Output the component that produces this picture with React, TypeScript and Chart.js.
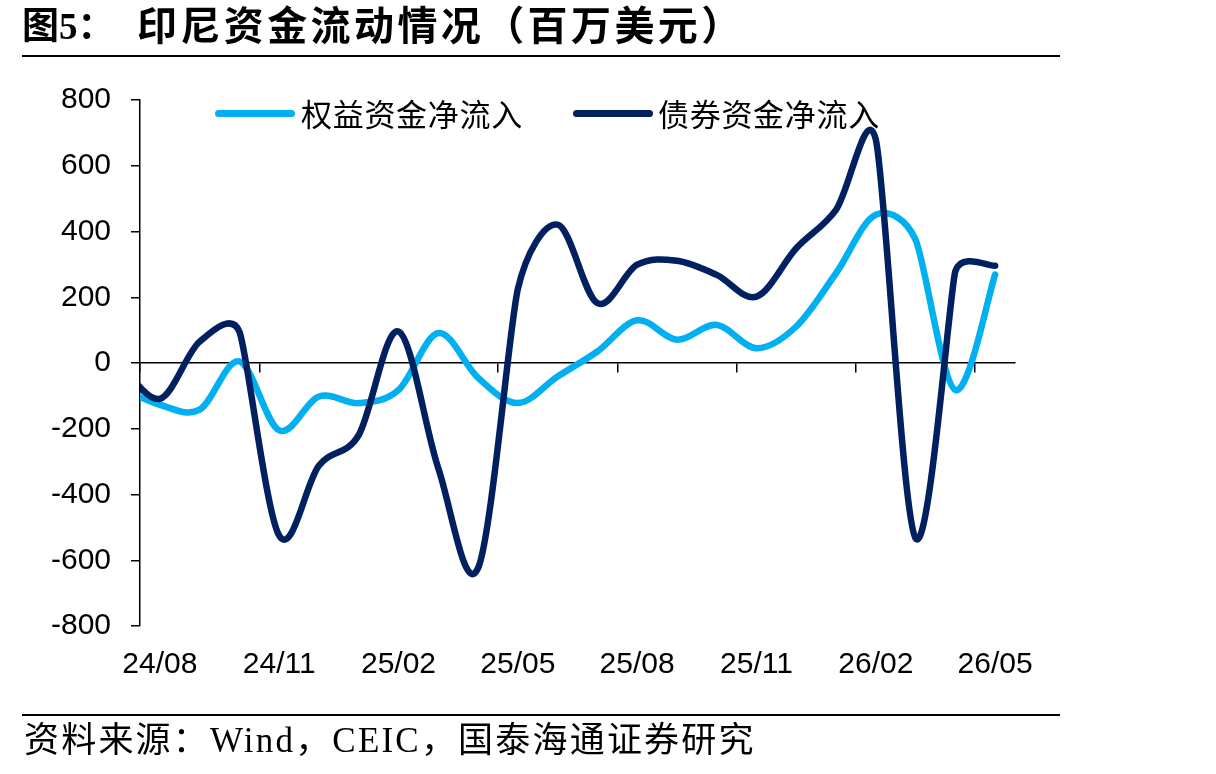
import React, { useEffect, useRef } from 'react';
import { Chart, registerables } from 'chart.js';

Chart.register(...registerables);

// ---- data (monthly, 百万美元) ----
const monthLabels = [
  '24/07', '24/08', '24/09', '24/10', '24/11', '24/12', '25/01', '25/02', '25/03', '25/04', '25/05', '25/06',
  '25/07', '25/08', '25/09', '25/10', '25/11', '25/12', '26/01', '26/02', '26/03', '26/04', '26/05',
];
const equityFlows = [-75, -127, -142, 5, -205, -102, -122, -82, 91, -45, -122, -41, 35, 130, 71, 116, 45, 111, 273, 451, 375, -82, 269];
const bondFlows = [0, -109, 65, 95, -525, -312, -219, 96, -320, -624, 225, 421, 182, 299, 311, 268, 202, 349, 466, 680, -533, 279, 296];
const xTickLabels = ['24/08', '24/11', '25/02', '25/05', '25/08', '25/11', '26/02', '26/05'];
const seriesNames = ['权益资金净流入', '债券资金净流入'];
const yMin = -800;
const yMax = 800;
const yStep = 200;

const firstVisible = 1; // index of 24/08 in monthLabels
const xMin = -0.5;
const xMax = monthLabels.length - 1 - firstVisible + 0.5;
const xTickValues = xTickLabels.map((l) => monthLabels.indexOf(l) - firstVisible - 0.5);

const W = 1216;
const H = 774;
const PLOT_LEFT = 140;
const PLOT_RIGHT = 1015;
const halfMonthPx = (PLOT_RIGHT - PLOT_LEFT) / (xMax - xMin) / 2;

const EQUITY = '#00B0F0';
const BOND = '#002060';

// Excel-like smoothing of the line through the library's own point pixels
const excelSmooth = {
  id: 'excelSmooth',
  beforeDatasetDraw(_chart: any, args: any) {
    const meta = args.meta;
    const line = meta.dataset;
    const pts = meta.data;
    const n = pts.length;
    if (!line || n < 2) return;
    for (let i = 0; i < n; i++) {
      const p1 = pts[i];
      const p0 = pts[i > 0 ? i - 1 : i];
      const p2 = pts[i < n - 1 ? i + 1 : i];
      const dx = p2.x - p0.x;
      const dy = p2.y - p0.y;
      const d02 = Math.hypot(dx, dy);
      let f = 1 / 6;
      if (d02 > 0) {
        if (i > 0) f = Math.min(f, Math.hypot(p1.x - p0.x, p1.y - p0.y) / (2 * d02));
        if (i < n - 1) f = Math.min(f, Math.hypot(p2.x - p1.x, p2.y - p1.y) / (2 * d02));
      }
      p1.cp1x = p1.x - f * dx;
      p1.cp1y = p1.y - f * dy;
      p1.cp2x = p1.x + f * dx;
      p1.cp2y = p1.y + f * dy;
    }
    line._pointsUpdated = true;
    line._path = undefined;
  },
};

const setMonthTicks = (scale: any) => {
  scale.ticks = xTickValues.map((v) => ({ value: v }));
};

export default function App() {
  const canvasRef = useRef<HTMLCanvasElement | null>(null);

  useEffect(() => {
    if (!canvasRef.current) return;
    Chart.defaults.font.family = "'Liberation Sans', Arial, sans-serif";
    const toPoints = (vals: number[]) => vals.map((v, i) => ({ x: i - firstVisible, y: v }));
    const chart = new Chart(canvasRef.current, {
      type: 'line',
      data: {
        datasets: [
          {
            label: seriesNames[0],
            data: toPoints(equityFlows),
            borderColor: EQUITY,
            backgroundColor: EQUITY,
            borderWidth: 6.5,
            borderCapStyle: 'round',
            borderJoinStyle: 'round',
            tension: 0.4,
            pointRadius: 0,
            order: 1,
            clip: { left: 0, top: 20, right: 20, bottom: 20 },
          },
          {
            label: seriesNames[1],
            data: toPoints(bondFlows),
            borderColor: BOND,
            backgroundColor: BOND,
            borderWidth: 6.5,
            borderCapStyle: 'round',
            borderJoinStyle: 'round',
            tension: 0.4,
            pointRadius: 0,
            order: 0,
            clip: { left: 0, top: 20, right: 20, bottom: 20 },
          },
        ],
      },
      options: {
        animation: false,
        responsive: false,
        events: [],
        layout: { padding: { left: 0, right: W - PLOT_RIGHT, top: 100, bottom: 88 } },
        plugins: { legend: { display: false }, tooltip: { enabled: false } },
        scales: {
          x: {
            type: 'linear',
            position: 'bottom',
            min: xMin,
            max: xMax,
            afterBuildTicks: setMonthTicks,
            afterFit: (s: any) => {
              s.height = 60;
            },
            grid: { display: false, drawTicks: false },
            border: { display: false },
            ticks: {
              autoSkip: false,
              maxRotation: 0,
              minRotation: 0,
              padding: 21,
              labelOffset: halfMonthPx,
              color: '#000',
              font: { size: 30 },
              callback: (value: any) => monthLabels[Math.round(Number(value) + 0.5) + firstVisible],
            },
          },
          xZero: {
            type: 'linear',
            position: { y: 0 },
            min: xMin,
            max: xMax,
            afterBuildTicks: setMonthTicks,
            grid: { drawOnChartArea: false, drawTicks: true, tickLength: 9, color: '#000', lineWidth: 1.5 },
            border: { display: true, color: '#000', width: 1.5 },
            ticks: { display: false },
          },
          y: {
            type: 'linear',
            position: 'left',
            min: yMin,
            max: yMax,
            afterFit: (s: any) => {
              s.width = PLOT_LEFT;
            },
            grid: { drawOnChartArea: false, drawTicks: true, tickLength: 9, color: '#000', lineWidth: 1.5 },
            border: { display: true, color: '#000', width: 1.5 },
            ticks: {
              stepSize: yStep,
              padding: 20,
              color: '#000',
              font: { size: 30 },
              callback: (v: any) => String(v),
            },
          },
        },
      } as any,
      plugins: [excelSmooth],
    } as any);
    return () => chart.destroy();
  }, []);

  const serifCJK = "'Liberation Serif', 'Noto Sans CJK SC', serif";
  const legendFont = "'Noto Sans CJK SC', sans-serif";

  return (
    <div style={{ position: 'absolute', left: 0, top: 0, width: W, height: H, background: '#fff', overflow: 'hidden' }}>
      <canvas ref={canvasRef} width={W} height={H} style={{ position: 'absolute', left: 0, top: 0, width: W, height: H }} />
      {/* title */}
      <div
        style={{
          position: 'absolute',
          left: 22,
          top: 6,
          height: 42,
          lineHeight: '42px',
          fontFamily: serifCJK,
          fontWeight: 700,
          fontSize: 37,
          color: '#000',
          whiteSpace: 'nowrap',
        }}
      >
        <span>图5：</span>
        <span style={{ position: 'absolute', left: 115, top: 0, fontSize: 40, letterSpacing: 3.4 }}>印尼资金流动情况（百万美元）</span>
      </div>
      <div style={{ position: 'absolute', left: 22, top: 55, width: 1038, height: 2, background: '#000' }} />
      {/* legend */}
      <div style={{ position: 'absolute', left: 215, top: 109.5, width: 80, height: 7, borderRadius: 3.5, background: EQUITY }} />
      <div
        style={{
          position: 'absolute',
          left: 301,
          top: 93,
          lineHeight: '40px',
          fontFamily: legendFont,
          fontSize: 31,
          letterSpacing: 0.7,
          color: '#000',
          whiteSpace: 'nowrap',
        }}
      >
        {seriesNames[0]}
      </div>
      <div style={{ position: 'absolute', left: 573, top: 109.5, width: 80, height: 7, borderRadius: 3.5, background: BOND }} />
      <div
        style={{
          position: 'absolute',
          left: 658,
          top: 93,
          lineHeight: '40px',
          fontFamily: legendFont,
          fontSize: 31,
          letterSpacing: 0.7,
          color: '#000',
          whiteSpace: 'nowrap',
        }}
      >
        {seriesNames[1]}
      </div>
      {/* source */}
      <div style={{ position: 'absolute', left: 22, top: 713.5, width: 1038, height: 2, background: '#000' }} />
      <div
        style={{
          position: 'absolute',
          left: 24,
          top: 721,
          lineHeight: '40px',
          fontFamily: serifCJK,
          fontSize: 35,
          letterSpacing: 2.2,
          color: '#000',
          whiteSpace: 'nowrap',
        }}
      >
        资料来源：Wind，CEIC，国泰海通证券研究
      </div>
    </div>
  );
}
